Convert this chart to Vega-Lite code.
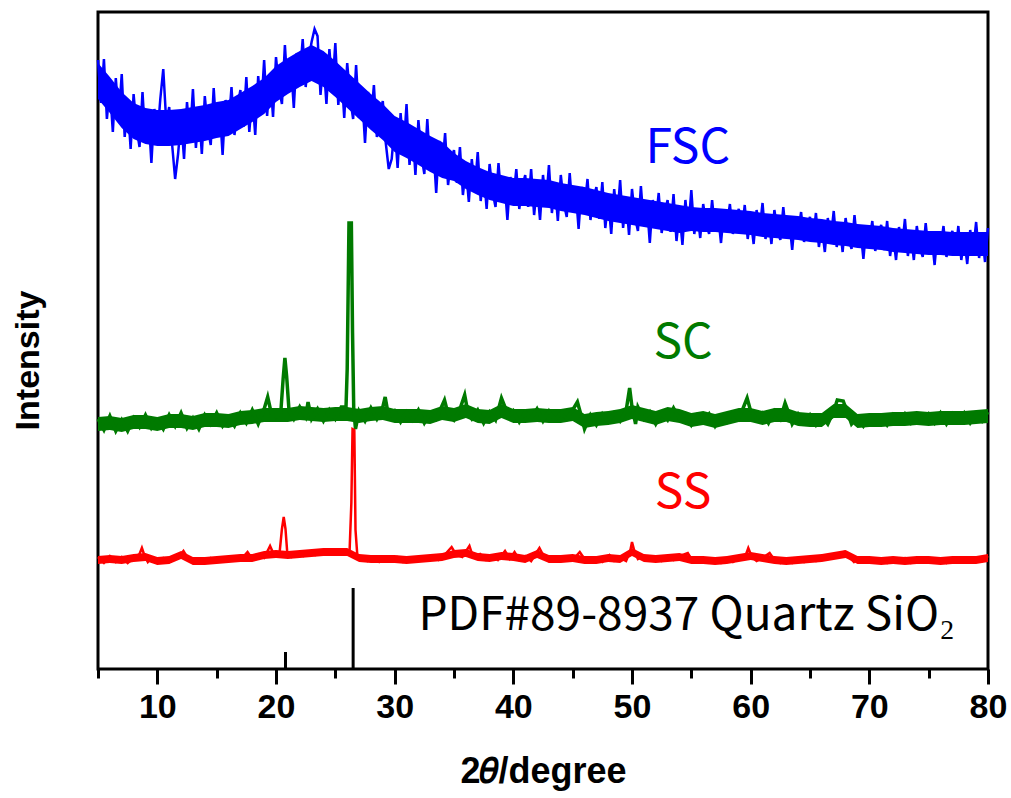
{
  "$schema": "https://vega.github.io/schema/vega-lite/v6.json",
  "width": 890,
  "height": 657,
  "autosize": "none",
  "padding": {"left": 98, "top": 12, "right": 23, "bottom": 129},
  "background": "white",
  "config": {
    "view": {"stroke": "black", "strokeWidth": 3},
    "axis": {"grid": false}
  },
  "datasets": {
    "fsc_band": [
      {"x":5,"y":570,"hi":606},{"x":6,"y":556,"hi":592},{"x":7,"y":541,"hi":577},{"x":8,"y":530,"hi":566},{"x":9,"y":525,"hi":561},{"x":10,"y":523,"hi":559},
      {"x":11,"y":523,"hi":559},{"x":12,"y":524,"hi":560},{"x":13,"y":526,"hi":562},{"x":14,"y":528,"hi":564},{"x":15,"y":531,"hi":567},{"x":16,"y":533,"hi":569},
      {"x":17,"y":540,"hi":576},{"x":18,"y":547,"hi":583},{"x":19,"y":555,"hi":591},{"x":20,"y":567,"hi":603},{"x":21,"y":575,"hi":611},{"x":22,"y":582,"hi":618},
      {"x":23,"y":588,"hi":624},{"x":24,"y":582,"hi":618},{"x":25,"y":572,"hi":608},{"x":26,"y":561,"hi":597},{"x":27,"y":550,"hi":586},{"x":28,"y":539,"hi":575},
      {"x":29,"y":529,"hi":565},{"x":30,"y":517,"hi":553},{"x":31,"y":511,"hi":547},{"x":32,"y":504,"hi":540},{"x":33,"y":497,"hi":533},{"x":34,"y":491,"hi":527},
      {"x":35,"y":488,"hi":516},{"x":36,"y":480,"hi":508},{"x":37,"y":474,"hi":502},{"x":38,"y":469,"hi":497},{"x":39,"y":466,"hi":494},{"x":40,"y":463,"hi":491},
      {"x":41,"y":463,"hi":491},{"x":42,"y":462,"hi":490},{"x":43,"y":461,"hi":489},{"x":44,"y":458,"hi":486},{"x":45,"y":456,"hi":484},{"x":46,"y":454,"hi":482},
      {"x":47,"y":451,"hi":479},{"x":48,"y":448,"hi":476},{"x":49,"y":446,"hi":474},{"x":50,"y":444,"hi":472},{"x":51,"y":442,"hi":470},{"x":52,"y":440,"hi":468},
      {"x":53,"y":438,"hi":466},{"x":54,"y":436,"hi":464},{"x":55,"y":438,"hi":462},{"x":56,"y":437,"hi":461},{"x":57,"y":437,"hi":461},{"x":58,"y":436,"hi":460},
      {"x":59,"y":435,"hi":459},{"x":60,"y":434,"hi":458},{"x":61,"y":432,"hi":456},{"x":62,"y":431,"hi":455},{"x":63,"y":430,"hi":454},{"x":64,"y":429,"hi":453},
      {"x":65,"y":427,"hi":451},{"x":66,"y":426,"hi":450},{"x":67,"y":424,"hi":448},{"x":68,"y":423,"hi":447},{"x":69,"y":421,"hi":445},{"x":70,"y":420,"hi":444},
      {"x":71,"y":419,"hi":443},{"x":72,"y":417,"hi":441},{"x":73,"y":416,"hi":440},{"x":74,"y":415,"hi":439},{"x":75,"y":414,"hi":438},{"x":76,"y":414,"hi":438},
      {"x":77,"y":413,"hi":437},{"x":78,"y":413,"hi":437},{"x":79,"y":413,"hi":437},{"x":80,"y":413,"hi":437}
    ],
    "sc_band": [
      {"x":5,"y":238,"hi":252},{"x":6,"y":239,"hi":253},{"x":7,"y":237,"hi":251},{"x":8,"y":240,"hi":254},{"x":9,"y":240,"hi":254},{"x":10,"y":238,"hi":252},
      {"x":11,"y":241,"hi":255},{"x":12,"y":241,"hi":255},{"x":13,"y":239,"hi":253},{"x":14,"y":242,"hi":256},{"x":15,"y":242,"hi":256},{"x":16,"y":241,"hi":255},
      {"x":17,"y":244,"hi":258},{"x":18,"y":245,"hi":259},{"x":19,"y":247,"hi":261},{"x":20,"y":247,"hi":261},{"x":21,"y":247,"hi":261},{"x":22,"y":249,"hi":263},
      {"x":23,"y":248,"hi":262},{"x":24,"y":247,"hi":261},{"x":25,"y":248,"hi":262},{"x":26,"y":248,"hi":262},{"x":27,"y":246,"hi":260},{"x":28,"y":248,"hi":262},
      {"x":29,"y":249,"hi":263},{"x":30,"y":246,"hi":260},{"x":31,"y":246,"hi":260},{"x":32,"y":246,"hi":260},{"x":33,"y":245,"hi":259},{"x":34,"y":249,"hi":263},
      {"x":35,"y":247,"hi":261},{"x":36,"y":251,"hi":265},{"x":37,"y":246,"hi":260},{"x":38,"y":245,"hi":259},{"x":39,"y":251,"hi":265},{"x":40,"y":246,"hi":260},
      {"x":41,"y":246,"hi":260},{"x":42,"y":247,"hi":261},{"x":43,"y":246,"hi":260},{"x":44,"y":246,"hi":260},{"x":45,"y":248,"hi":262},{"x":46,"y":241,"hi":255},
      {"x":47,"y":243,"hi":257},{"x":48,"y":244,"hi":258},{"x":49,"y":246,"hi":260},{"x":50,"y":250,"hi":264},{"x":51,"y":247,"hi":261},{"x":52,"y":244,"hi":258},
      {"x":53,"y":248,"hi":262},{"x":54,"y":246,"hi":260},{"x":55,"y":242,"hi":256},{"x":56,"y":244,"hi":258},{"x":57,"y":241,"hi":255},{"x":58,"y":244,"hi":258},
      {"x":59,"y":247,"hi":261},{"x":60,"y":247,"hi":261},{"x":61,"y":244,"hi":258},{"x":62,"y":247,"hi":261},{"x":63,"y":247,"hi":261},{"x":64,"y":243,"hi":257},
      {"x":65,"y":242,"hi":256},{"x":66,"y":242,"hi":256},{"x":67,"y":251,"hi":265},{"x":68,"y":251,"hi":265},{"x":69,"y":241,"hi":255},{"x":70,"y":242,"hi":256},
      {"x":71,"y":242,"hi":256},{"x":72,"y":243,"hi":257},{"x":73,"y":243,"hi":257},{"x":74,"y":244,"hi":258},{"x":75,"y":243,"hi":257},{"x":76,"y":244,"hi":258},
      {"x":77,"y":244,"hi":258},{"x":78,"y":244,"hi":258},{"x":79,"y":245,"hi":259},{"x":80,"y":246,"hi":260}
    ],
    "ss_band": [
      {"x":5,"y":105,"hi":113},{"x":6,"y":106,"hi":114},{"x":7,"y":105,"hi":113},{"x":8,"y":107,"hi":115},{"x":9,"y":108,"hi":116},{"x":10,"y":104,"hi":112},
      {"x":11,"y":105,"hi":113},{"x":12,"y":110,"hi":118},{"x":13,"y":104,"hi":112},{"x":14,"y":104,"hi":112},{"x":15,"y":105,"hi":113},{"x":16,"y":106,"hi":114},
      {"x":17,"y":107,"hi":115},{"x":18,"y":107,"hi":115},{"x":19,"y":110,"hi":118},{"x":20,"y":111,"hi":119},{"x":21,"y":110,"hi":118},{"x":22,"y":111,"hi":119},
      {"x":23,"y":112,"hi":120},{"x":24,"y":113,"hi":121},{"x":25,"y":113,"hi":121},{"x":26,"y":113,"hi":121},{"x":27,"y":107,"hi":115},{"x":28,"y":106,"hi":114},
      {"x":29,"y":106,"hi":114},{"x":30,"y":106,"hi":114},{"x":31,"y":105,"hi":113},{"x":32,"y":106,"hi":114},{"x":33,"y":107,"hi":115},{"x":34,"y":108,"hi":116},
      {"x":35,"y":111,"hi":119},{"x":36,"y":112,"hi":120},{"x":37,"y":108,"hi":116},{"x":38,"y":107,"hi":115},{"x":39,"y":109,"hi":117},{"x":40,"y":108,"hi":116},
      {"x":41,"y":106,"hi":114},{"x":42,"y":111,"hi":119},{"x":43,"y":106,"hi":114},{"x":44,"y":106,"hi":114},{"x":45,"y":107,"hi":115},{"x":46,"y":105,"hi":113},
      {"x":47,"y":105,"hi":113},{"x":48,"y":107,"hi":115},{"x":49,"y":106,"hi":114},{"x":50,"y":113,"hi":121},{"x":51,"y":107,"hi":115},{"x":52,"y":106,"hi":114},
      {"x":53,"y":107,"hi":115},{"x":54,"y":108,"hi":116},{"x":55,"y":105,"hi":113},{"x":56,"y":105,"hi":113},{"x":57,"y":104,"hi":112},{"x":58,"y":105,"hi":113},
      {"x":59,"y":107,"hi":115},{"x":60,"y":109,"hi":117},{"x":61,"y":107,"hi":115},{"x":62,"y":105,"hi":113},{"x":63,"y":104,"hi":112},{"x":64,"y":105,"hi":113},
      {"x":65,"y":106,"hi":114},{"x":66,"y":107,"hi":115},{"x":67,"y":109,"hi":117},{"x":68,"y":111,"hi":119},{"x":69,"y":105,"hi":113},{"x":70,"y":105,"hi":113},
      {"x":71,"y":104,"hi":112},{"x":72,"y":105,"hi":113},{"x":73,"y":104,"hi":112},{"x":74,"y":105,"hi":113},{"x":75,"y":105,"hi":113},{"x":76,"y":104,"hi":112},
      {"x":77,"y":105,"hi":113},{"x":78,"y":105,"hi":113},{"x":79,"y":105,"hi":113},{"x":80,"y":107,"hi":115}
    ],
    "fsc": [
      {"x":5.00,"y":609},{"x":5.25,"y":566},{"x":5.50,"y":610},{"x":5.75,"y":550},{"x":6.00,"y":583},{"x":6.25,"y":537},{"x":6.50,"y":591},{"x":6.75,"y":551},
      {"x":7.00,"y":595},{"x":7.25,"y":532},{"x":7.50,"y":567},{"x":7.75,"y":520},{"x":8.00,"y":575},{"x":8.25,"y":541},{"x":8.50,"y":522},{"x":8.75,"y":577},
      {"x":9.00,"y":526},{"x":9.25,"y":555},{"x":9.50,"y":506},{"x":9.75,"y":560},{"x":10.00,"y":532},{"x":10.25,"y":570},{"x":10.50,"y":600},{"x":10.75,"y":547},
      {"x":11.00,"y":562},{"x":11.25,"y":524},{"x":11.50,"y":490},{"x":11.75,"y":515},{"x":12.00,"y":551},{"x":12.25,"y":510},{"x":12.50,"y":567},{"x":12.75,"y":531},
      {"x":13.00,"y":580},{"x":13.25,"y":521},{"x":13.50,"y":560},{"x":13.75,"y":515},{"x":14.00,"y":573},{"x":14.25,"y":541},{"x":14.50,"y":524},{"x":14.75,"y":581},
      {"x":15.00,"y":532},{"x":15.25,"y":562},{"x":15.50,"y":514},{"x":15.75,"y":569},{"x":16.00,"y":542},{"x":16.25,"y":582},{"x":16.50,"y":534},{"x":16.75,"y":562},
      {"x":17.00,"y":579},{"x":17.25,"y":542},{"x":17.50,"y":592},{"x":17.75,"y":537},{"x":18.00,"y":574},{"x":18.25,"y":534},{"x":18.50,"y":593},{"x":18.75,"y":559},
      {"x":19.00,"y":609},{"x":19.25,"y":553},{"x":19.50,"y":594},{"x":19.75,"y":552},{"x":20.00,"y":612},{"x":20.25,"y":581},{"x":20.50,"y":565},{"x":20.75,"y":624},
      {"x":21.00,"y":576},{"x":21.25,"y":607},{"x":21.50,"y":561},{"x":21.75,"y":616},{"x":22.00,"y":591},{"x":22.25,"y":630},{"x":22.50,"y":582},{"x":22.75,"y":610},
      {"x":23.00,"y":627},{"x":23.25,"y":640},{"x":23.50,"y":633},{"x":23.75,"y":574},{"x":24.00,"y":609},{"x":24.25,"y":565},{"x":24.50,"y":620},{"x":24.75,"y":581},
      {"x":25.00,"y":626},{"x":25.25,"y":564},{"x":25.50,"y":599},{"x":25.75,"y":551},{"x":26.00,"y":606},{"x":26.25,"y":571},{"x":26.50,"y":550},{"x":26.75,"y":604},
      {"x":27.00,"y":551},{"x":27.25,"y":577},{"x":27.50,"y":526},{"x":27.75,"y":577},{"x":28.00,"y":548},{"x":28.25,"y":584},{"x":28.50,"y":532},{"x":28.75,"y":556},
      {"x":29.00,"y":568},{"x":29.25,"y":526},{"x":29.50,"y":500},{"x":29.75,"y":510},{"x":30.00,"y":544},{"x":30.25,"y":501},{"x":30.50,"y":556},{"x":30.75,"y":518},
      {"x":31.00,"y":565},{"x":31.25,"y":504},{"x":31.50,"y":541},{"x":31.75,"y":494},{"x":32.00,"y":549},{"x":32.25,"y":514},{"x":32.50,"y":495},{"x":32.75,"y":550},
      {"x":33.00,"y":498},{"x":33.25,"y":525},{"x":33.50,"y":476},{"x":33.75,"y":528},{"x":34.00,"y":500},{"x":34.25,"y":536},{"x":34.50,"y":484},{"x":34.75,"y":509},
      {"x":35.00,"y":519},{"x":35.25,"y":486},{"x":35.50,"y":522},{"x":35.75,"y":474},{"x":36.00,"y":501},{"x":36.25,"y":467},{"x":36.50,"y":510},{"x":36.75,"y":479},
      {"x":37.00,"y":517},{"x":37.25,"y":468},{"x":37.50,"y":497},{"x":37.75,"y":460},{"x":38.00,"y":505},{"x":38.25,"y":477},{"x":38.50,"y":462},{"x":38.75,"y":506},
      {"x":39.00,"y":467},{"x":39.25,"y":489},{"x":39.50,"y":449},{"x":39.75,"y":492},{"x":40.00,"y":470},{"x":40.25,"y":500},{"x":40.50,"y":460},{"x":40.75,"y":482},
      {"x":41.00,"y":494},{"x":41.25,"y":462},{"x":41.50,"y":500},{"x":41.75,"y":454},{"x":42.00,"y":483},{"x":42.25,"y":449},{"x":42.50,"y":494},{"x":42.75,"y":465},
      {"x":43.00,"y":504},{"x":43.25,"y":456},{"x":43.50,"y":485},{"x":43.75,"y":448},{"x":44.00,"y":494},{"x":44.25,"y":466},{"x":44.50,"y":452},{"x":44.75,"y":496},
      {"x":45.00,"y":457},{"x":45.25,"y":479},{"x":45.50,"y":440},{"x":45.75,"y":482},{"x":46.00,"y":461},{"x":46.25,"y":490},{"x":46.50,"y":449},{"x":46.75,"y":471},
      {"x":47.00,"y":482},{"x":47.25,"y":450},{"x":47.50,"y":487},{"x":47.75,"y":441},{"x":48.00,"y":469},{"x":48.25,"y":435},{"x":48.50,"y":480},{"x":48.75,"y":450},
      {"x":49.00,"y":489},{"x":49.25,"y":441},{"x":49.50,"y":471},{"x":49.75,"y":434},{"x":50.00,"y":480},{"x":50.25,"y":452},{"x":50.50,"y":438},{"x":50.75,"y":483},
      {"x":51.00,"y":443},{"x":51.25,"y":466},{"x":51.50,"y":426},{"x":51.75,"y":469},{"x":52.00,"y":447},{"x":52.25,"y":476},{"x":52.50,"y":436},{"x":52.75,"y":457},
      {"x":53.00,"y":469},{"x":53.25,"y":437},{"x":53.50,"y":475},{"x":53.75,"y":428},{"x":54.00,"y":457},{"x":54.25,"y":424},{"x":54.50,"y":469},{"x":54.75,"y":440},
      {"x":55.00,"y":479},{"x":55.25,"y":435},{"x":55.50,"y":458},{"x":55.75,"y":431},{"x":56.00,"y":465},{"x":56.25,"y":445},{"x":56.50,"y":435},{"x":56.75,"y":469},
      {"x":57.00,"y":439},{"x":57.25,"y":455},{"x":57.50,"y":426},{"x":57.75,"y":459},{"x":58.00,"y":443},{"x":58.25,"y":465},{"x":58.50,"y":435},{"x":58.75,"y":451},
      {"x":59.00,"y":460},{"x":59.25,"y":436},{"x":59.50,"y":464},{"x":59.75,"y":430},{"x":60.00,"y":451},{"x":60.25,"y":425},{"x":60.50,"y":459},{"x":60.75,"y":438},
      {"x":61.00,"y":466},{"x":61.25,"y":430},{"x":61.50,"y":453},{"x":61.75,"y":425},{"x":62.00,"y":459},{"x":62.25,"y":439},{"x":62.50,"y":429},{"x":62.75,"y":462},
      {"x":63.00,"y":432},{"x":63.25,"y":449},{"x":63.50,"y":419},{"x":63.75,"y":452},{"x":64.00,"y":436},{"x":64.25,"y":457},{"x":64.50,"y":427},{"x":64.75,"y":444},
      {"x":65.00,"y":452},{"x":65.25,"y":428},{"x":65.50,"y":456},{"x":65.75,"y":422},{"x":66.00,"y":443},{"x":66.25,"y":417},{"x":66.50,"y":451},{"x":66.75,"y":430},
      {"x":67.00,"y":458},{"x":67.25,"y":422},{"x":67.50,"y":445},{"x":67.75,"y":417},{"x":68.00,"y":451},{"x":68.25,"y":430},{"x":68.50,"y":420},{"x":68.75,"y":454},
      {"x":69.00,"y":423},{"x":69.25,"y":440},{"x":69.50,"y":410},{"x":69.75,"y":443},{"x":70.00,"y":427},{"x":70.25,"y":448},{"x":70.50,"y":418},{"x":70.75,"y":435},
      {"x":71.00,"y":444},{"x":71.25,"y":419},{"x":71.50,"y":448},{"x":71.75,"y":413},{"x":72.00,"y":434},{"x":72.25,"y":409},{"x":72.50,"y":442},{"x":72.75,"y":421},
      {"x":73.00,"y":450},{"x":73.25,"y":413},{"x":73.50,"y":436},{"x":73.75,"y":409},{"x":74.00,"y":443},{"x":74.25,"y":422},{"x":74.50,"y":412},{"x":74.75,"y":446},
      {"x":75.00,"y":416},{"x":75.25,"y":433},{"x":75.50,"y":404},{"x":75.75,"y":437},{"x":76.00,"y":421},{"x":76.25,"y":443},{"x":76.50,"y":412},{"x":76.75,"y":429},
      {"x":77.00,"y":438},{"x":77.25,"y":414},{"x":77.50,"y":443},{"x":77.75,"y":409},{"x":78.00,"y":430},{"x":78.25,"y":405},{"x":78.50,"y":439},{"x":78.75,"y":418},
      {"x":79.00,"y":447},{"x":79.25,"y":411},{"x":79.50,"y":434},{"x":79.75,"y":407},{"x":80.00,"y":441}
    ],
    "sc": [
      {"x":5.0,"y":250},{"x":5.5,"y":239},{"x":6.0,"y":253},{"x":6.5,"y":238},{"x":7.0,"y":249},{"x":7.5,"y":238},{"x":8.0,"y":251},{"x":8.5,"y":242},
      {"x":9.0,"y":254},{"x":9.5,"y":241},{"x":10.0,"y":249},{"x":10.5,"y":240},{"x":11.0,"y":254},{"x":11.5,"y":243},{"x":12.0,"y":256},{"x":12.5,"y":241},
      {"x":13.0,"y":251},{"x":13.5,"y":240},{"x":14.0,"y":254},{"x":14.5,"y":245},{"x":15.0,"y":256},{"x":15.5,"y":243},{"x":16.0,"y":252},{"x":16.5,"y":243},
      {"x":17.0,"y":256},{"x":17.5,"y":246},{"x":18.0,"y":259},{"x":18.5,"y":245},{"x":19.0,"y":260},{"x":19.3,"y":272},{"x":19.6,"y":256},{"x":20.0,"y":252},
      {"x":20.4,"y":256},{"x":20.6,"y":290},{"x":20.75,"y":311},{"x":20.9,"y":292},{"x":21.1,"y":258},{"x":21.5,"y":250},{"x":22.0,"y":262},{"x":22.5,"y":252},
      {"x":22.7,"y":267},{"x":23.0,"y":250},{"x":23.5,"y":260},{"x":24.0,"y":248},{"x":24.5,"y":259},{"x":25.0,"y":250},{"x":25.5,"y":262},{"x":25.9,"y":262},
      {"x":26.0,"y":300},{"x":26.15,"y":446},{"x":26.35,"y":446},{"x":26.45,"y":336},{"x":26.55,"y":260},{"x":26.7,"y":240},{"x":27.0,"y":258},{"x":27.5,"y":248},
      {"x":28.0,"y":261},{"x":28.5,"y":250},{"x":29.0,"y":262},{"x":29.2,"y":272},{"x":29.5,"y":252},{"x":30.0,"y":258},{"x":30.5,"y":247},{"x":31.0,"y":257},
      {"x":31.5,"y":249},{"x":32.0,"y":259},{"x":32.5,"y":246},{"x":33.0,"y":256},{"x":33.5,"y":250},{"x":34.2,"y":269},{"x":34.5,"y":255},{"x":35.0,"y":249},
      {"x":35.5,"y":260},{"x":35.9,"y":274},{"x":36.2,"y":255},{"x":36.5,"y":250},{"x":37.0,"y":259},{"x":37.5,"y":246},{"x":38.0,"y":257},{"x":38.5,"y":249},
      {"x":39.0,"y":271},{"x":39.3,"y":262},{"x":39.6,"y":252},{"x":40.0,"y":258},{"x":40.5,"y":247},{"x":41.0,"y":257},{"x":41.5,"y":250},{"x":42.0,"y":260},
      {"x":42.5,"y":248},{"x":43.0,"y":258},{"x":43.5,"y":249},{"x":44.0,"y":256},{"x":44.5,"y":250},{"x":45.0,"y":259},{"x":45.4,"y":267},{"x":45.8,"y":250},
      {"x":46.0,"y":240},{"x":46.5,"y":254},{"x":47.0,"y":244},{"x":47.5,"y":255},{"x":48.0,"y":247},{"x":48.5,"y":256},{"x":49.0,"y":248},{"x":49.5,"y":258},
      {"x":49.8,"y":281},{"x":50.0,"y":262},{"x":50.3,"y":245},{"x":50.5,"y":262},{"x":51.0,"y":250},{"x":51.5,"y":257},{"x":52.0,"y":245},{"x":52.5,"y":256},
      {"x":53.0,"y":249},{"x":53.5,"y":261},{"x":54.0,"y":250},{"x":54.5,"y":255},{"x":55.0,"y":244},{"x":55.5,"y":254},{"x":56.0,"y":247},{"x":56.5,"y":255},
      {"x":57.0,"y":243},{"x":57.5,"y":253},{"x":58.0,"y":247},{"x":58.5,"y":256},{"x":59.0,"y":250},{"x":59.7,"y":271},{"x":60.0,"y":258},{"x":60.5,"y":250},
      {"x":61.0,"y":256},{"x":61.5,"y":246},{"x":62.0,"y":258},{"x":62.5,"y":250},{"x":62.9,"y":266},{"x":63.3,"y":253},{"x":63.5,"y":245},{"x":64.0,"y":255},
      {"x":64.5,"y":246},{"x":65.0,"y":254},{"x":65.5,"y":244},{"x":66.0,"y":253},{"x":66.5,"y":245},{"x":67.0,"y":258},{"x":67.3,"y":269},{"x":67.8,"y":268},
      {"x":68.2,"y":255},{"x":68.5,"y":245},{"x":69.0,"y":252},{"x":69.5,"y":243},{"x":70.0,"y":252},{"x":70.5,"y":245},{"x":71.0,"y":253},{"x":71.5,"y":244},
      {"x":72.0,"y":254},{"x":72.5,"y":246},{"x":73.0,"y":255},{"x":73.5,"y":246},{"x":74.0,"y":254},{"x":74.5,"y":247},{"x":75.0,"y":255},{"x":75.5,"y":246},
      {"x":76.0,"y":256},{"x":76.5,"y":245},{"x":77.0,"y":255},{"x":77.5,"y":247},{"x":78.0,"y":256},{"x":78.5,"y":246},{"x":79.0,"y":255},{"x":79.5,"y":248},
      {"x":80.0,"y":257}
    ],
    "ss": [
      {"x":5.0,"y":112},{"x":5.5,"y":106},{"x":6.0,"y":113},{"x":6.5,"y":107},{"x":7.0,"y":112},{"x":7.5,"y":106},{"x":8.0,"y":111},{"x":8.5,"y":115},
      {"x":8.7,"y":121},{"x":8.9,"y":114},{"x":9.2,"y":107},{"x":9.5,"y":111},{"x":10.0,"y":106},{"x":10.5,"y":111},{"x":11.0,"y":107},{"x":11.5,"y":110},
      {"x":12.0,"y":115},{"x":12.2,"y":118},{"x":12.5,"y":112},{"x":13.0,"y":106},{"x":13.5,"y":110},{"x":14.0,"y":106},{"x":14.5,"y":111},{"x":15.0,"y":107},
      {"x":15.5,"y":111},{"x":16.0,"y":108},{"x":16.5,"y":112},{"x":17.0,"y":109},{"x":17.6,"y":117},{"x":18.0,"y":110},{"x":18.5,"y":113},{"x":19.0,"y":111},
      {"x":19.5,"y":123},{"x":19.8,"y":115},{"x":20.3,"y":116},{"x":20.5,"y":140},{"x":20.65,"y":152},{"x":20.8,"y":140},{"x":20.95,"y":116},{"x":21.3,"y":112},
      {"x":21.8,"y":116},{"x":22.3,"y":113},{"x":22.8,"y":117},{"x":23.3,"y":114},{"x":23.8,"y":118},{"x":24.3,"y":115},{"x":24.8,"y":119},{"x":25.3,"y":115},
      {"x":25.8,"y":118},{"x":26.2,"y":118},{"x":26.35,"y":166},{"x":26.45,"y":240},{"x":26.6,"y":239},{"x":26.7,"y":139},{"x":26.85,"y":114},{"x":27.2,"y":112},
      {"x":27.7,"y":108},{"x":28.2,"y":112},{"x":28.7,"y":107},{"x":29.2,"y":111},{"x":29.7,"y":108},{"x":30.2,"y":112},{"x":30.7,"y":107},{"x":31.2,"y":111},
      {"x":31.7,"y":108},{"x":32.2,"y":112},{"x":32.7,"y":109},{"x":33.2,"y":113},{"x":33.7,"y":109},{"x":34.2,"y":114},{"x":34.8,"y":122},{"x":35.2,"y":114},
      {"x":35.7,"y":112},{"x":36.3,"y":123},{"x":36.6,"y":112},{"x":37.2,"y":115},{"x":37.7,"y":109},{"x":38.2,"y":113},{"x":38.7,"y":109},{"x":39.3,"y":118},
      {"x":39.7,"y":110},{"x":40.1,"y":117},{"x":40.5,"y":109},{"x":41.0,"y":113},{"x":41.5,"y":108},{"x":42.2,"y":121},{"x":42.6,"y":112},{"x":43.0,"y":108},
      {"x":43.5,"y":112},{"x":44.0,"y":108},{"x":44.5,"y":112},{"x":45.0,"y":109},{"x":45.6,"y":117},{"x":46.0,"y":110},{"x":46.5,"y":107},{"x":47.0,"y":111},
      {"x":47.5,"y":107},{"x":48.1,"y":114},{"x":48.5,"y":108},{"x":49.0,"y":111},{"x":49.5,"y":108},{"x":49.85,"y":118},{"x":50.0,"y":127},{"x":50.2,"y":118},
      {"x":50.5,"y":110},{"x":51.0,"y":113},{"x":51.5,"y":109},{"x":52.0,"y":112},{"x":52.5,"y":108},{"x":53.0,"y":112},{"x":53.5,"y":109},{"x":54.0,"y":113},
      {"x":54.7,"y":116},{"x":55.0,"y":110},{"x":55.5,"y":107},{"x":56.0,"y":111},{"x":56.5,"y":107},{"x":57.0,"y":110},{"x":57.5,"y":106},{"x":58.0,"y":110},
      {"x":58.5,"y":107},{"x":59.0,"y":111},{"x":59.5,"y":111},{"x":59.8,"y":121},{"x":60.1,"y":112},{"x":60.5,"y":108},{"x":61.0,"y":111},{"x":61.6,"y":116},
      {"x":62.0,"y":109},{"x":62.5,"y":106},{"x":63.0,"y":110},{"x":63.5,"y":106},{"x":64.0,"y":110},{"x":64.5,"y":107},{"x":65.0,"y":111},{"x":65.5,"y":108},
      {"x":66.0,"y":112},{"x":66.5,"y":110},{"x":67.0,"y":113},{"x":67.6,"y":116},{"x":67.9,"y":117},{"x":68.3,"y":112},{"x":68.7,"y":107},{"x":69.0,"y":111},
      {"x":69.5,"y":107},{"x":70.0,"y":111},{"x":70.5,"y":107},{"x":71.0,"y":110},{"x":71.5,"y":106},{"x":72.0,"y":110},{"x":72.5,"y":107},{"x":73.0,"y":111},
      {"x":73.5,"y":106},{"x":74.0,"y":110},{"x":74.5,"y":107},{"x":75.0,"y":111},{"x":75.5,"y":107},{"x":76.0,"y":110},{"x":76.5,"y":106},{"x":77.0,"y":110},
      {"x":77.5,"y":107},{"x":78.0,"y":111},{"x":78.5,"y":107},{"x":79.0,"y":110},{"x":79.5,"y":108},{"x":80.0,"y":113}
    ],
    "ref": [
      {"x":20.8,"y":17},{"x":26.5,"y":81}
    ],
    "labels": [
      {"x":54.7,"y":506,"t":"FSC"},{"x":54.3,"y":311,"t":"SC"},{"x":54.3,"y":161,"t":"SS"}
    ],
    "note": [
      {"x":32.0,"y":39,"t":"PDF#89-8937 Quartz SiO₂"}
    ]
  },
  "encoding": {
    "x": {
      "field": "x", "type": "quantitative",
      "scale": {"domain": [5, 80], "nice": false, "zero": false},
      "axis": {
        "title": "2𝜃/degree",
        "values": [5,10,15,20,25,30,35,40,45,50,55,60,65,70,75,80],
        "labelExpr": "datum.value % 10 === 0 ? datum.label : ''",
        "labelFlush": false, "labelOverlap": false,
        "domain": false,
        "tickColor": "black", "tickWidth": 3,
        "tickSize": {"condition": {"test": "datum.value % 10 === 0", "value": 15}, "value": 9},
        "labelFont": "Liberation Sans", "labelFontWeight": "bold", "labelFontSize": 34, "labelColor": "black", "labelPadding": 6,
        "titleFont": "Liberation Sans", "titleFontWeight": "bold", "titleFontSize": 36, "titleColor": "black",
        "titleX": 445, "titleY": 113, "titleBaseline": "alphabetic", "titleAlign": "center"
      }
    },
    "y": {
      "field": "y", "type": "quantitative",
      "scale": {"domain": [0, 657], "nice": false, "zero": false},
      "axis": {
        "title": "Intensity", "ticks": false, "labels": false, "domain": false,
        "titleFont": "Liberation Sans", "titleFontWeight": "bold", "titleFontSize": 34, "titleColor": "black",
        "titleX": -70, "titleY": 348, "titleAngle": -90, "titleBaseline": "middle", "titleAlign": "center"
      }
    }
  },
  "layer": [
    {"data": {"name": "fsc_band"}, "mark": {"type": "area", "color": "#0000ff", "opacity": 1}, "encoding": {"y2": {"field": "hi"}}},
    {"data": {"name": "sc_band"}, "mark": {"type": "area", "color": "#007a00", "opacity": 1}, "encoding": {"y2": {"field": "hi"}}},
    {"data": {"name": "ss_band"}, "mark": {"type": "area", "color": "#ff0000", "opacity": 1}, "encoding": {"y2": {"field": "hi"}}},
    {"data": {"name": "fsc"}, "mark": {"type": "line", "color": "#0000ff", "strokeWidth": 2.5}},
    {"data": {"name": "sc"}, "mark": {"type": "line", "color": "#007a00", "strokeWidth": 3.5}},
    {"data": {"name": "ss"}, "mark": {"type": "line", "color": "#ff0000", "strokeWidth": 2.5}},
    {"data": {"name": "ref"}, "mark": {"type": "rule", "color": "black", "strokeWidth": 3}, "encoding": {"y2": {"datum": 0}}},
    {"data": {"name": "labels"}, "mark": {"type": "text", "font": "Noto Sans CJK SC", "fontSize": 48, "align": "center", "baseline": "alphabetic"},
     "encoding": {"text": {"field": "t"}, "color": {"field": "t", "type": "nominal", "scale": {"domain": ["FSC","SC","SS"], "range": ["#0000ff","#007a00","#ff0000"]}, "legend": null}}},
    {"data": {"name": "note"}, "mark": {"type": "text", "font": "Noto Sans CJK SC", "fontSize": 46, "align": "left", "baseline": "alphabetic", "color": "black"},
     "encoding": {"text": {"field": "t"}}}
  ]
}
